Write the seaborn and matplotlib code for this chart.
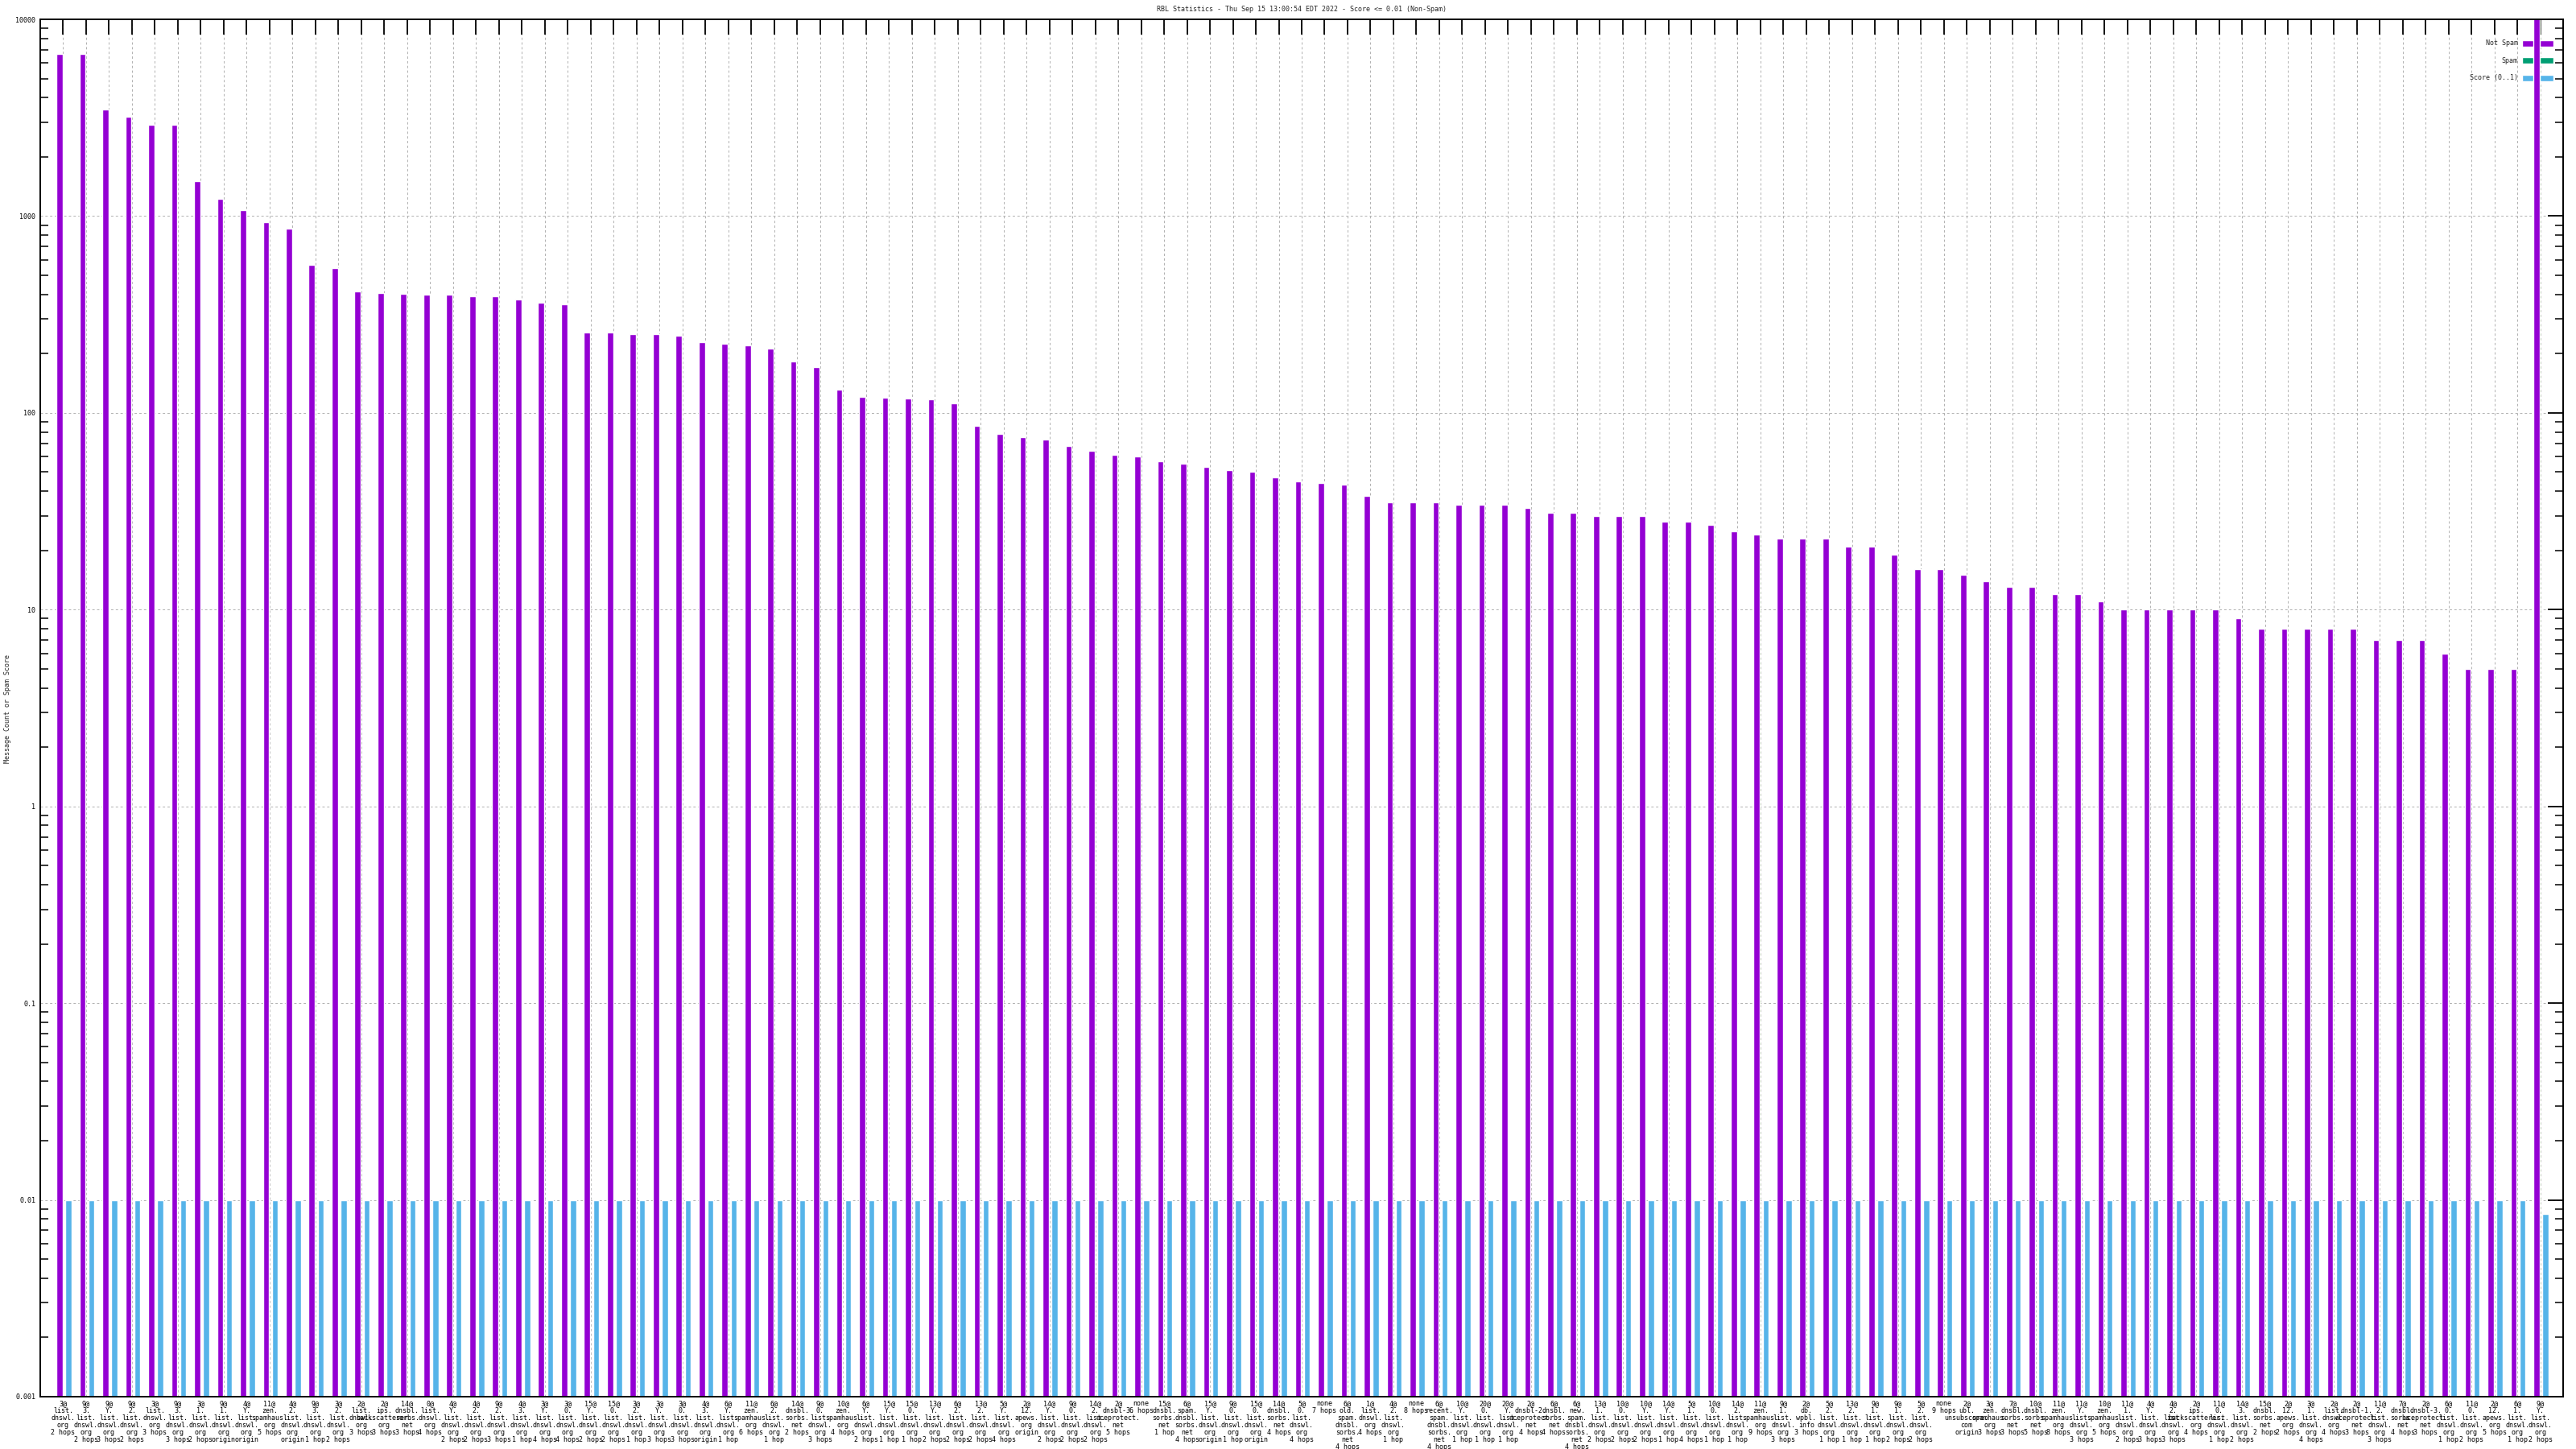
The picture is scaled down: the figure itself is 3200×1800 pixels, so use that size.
import numpy as np
import pandas as pd
import matplotlib
matplotlib.use("Agg")
import matplotlib.pyplot as plt
import seaborn as sns
from matplotlib.patches import Patch
from matplotlib.ticker import LogLocator, NullFormatter, FuncFormatter

# -----------------------------
# Data
# -----------------------------
labels = [
    "3@ list.dnswl.org 2 hops", "9@ 3.list.dnswl.org 2 hops", "9@ Y.list.dnswl.org 3 hops",
    "9@ 2.list.dnswl.org 2 hops", "3@ list.dnswl.org 3 hops", "9@ 3.list.dnswl.org 3 hops",
    "3@ 1.list.dnswl.org 2 hops", "9@ 1.list.dnswl.org origin", "4@ Y.list.dnswl.org origin",
    "11@ zen.spamhaus.org 5 hops", "4@ 2.list.dnswl.org origin", "9@ 3.list.dnswl.org 1 hop",
    "3@ 2.list.dnswl.org 2 hops", "2@ list.dnswl.org 3 hops", "2@ ips.backscatterer.org 3 hops",
    "14@ dnsbl.sorbs.net 3 hops", "0@ list.dnswl.org 4 hops", "4@ Y.list.dnswl.org 2 hops",
    "4@ 2.list.dnswl.org 2 hops", "9@ 2.list.dnswl.org 3 hops", "4@ 3.list.dnswl.org 1 hop",
    "3@ Y.list.dnswl.org 4 hops", "3@ 0.list.dnswl.org 4 hops", "15@ Y.list.dnswl.org 2 hops",
    "15@ 0.list.dnswl.org 2 hops", "3@ 2.list.dnswl.org 1 hop", "3@ Y.list.dnswl.org 3 hops",
    "3@ 0.list.dnswl.org 3 hops", "4@ 3.list.dnswl.org origin", "6@ Y.list.dnswl.org 1 hop",
    "11@ zen.spamhaus.org 6 hops", "6@ 2.list.dnswl.org 1 hop", "14@ dnsbl.sorbs.net 2 hops",
    "9@ 0.list.dnswl.org 3 hops", "10@ zen.spamhaus.org 4 hops", "6@ Y.list.dnswl.org 2 hops",
    "15@ Y.list.dnswl.org 1 hop", "15@ 0.list.dnswl.org 1 hop", "13@ Y.list.dnswl.org 2 hops",
    "6@ 2.list.dnswl.org 2 hops", "13@ 2.list.dnswl.org 2 hops", "5@ Y.list.dnswl.org 4 hops",
    "2@ 12.apews.org origin", "14@ Y.list.dnswl.org 2 hops", "9@ 0.list.dnswl.org 2 hops",
    "14@ 2.list.dnswl.org 2 hops", "2@ dnsbl-3.uceprotect.net 5 hops", "none 6 hops",
    "15@ dnsbl.sorbs.net 1 hop", "6@ spam.dnsbl.sorbs.net 4 hops", "15@ Y.list.dnswl.org origin",
    "9@ 0.list.dnswl.org 1 hop", "15@ 0.list.dnswl.org origin", "14@ dnsbl.sorbs.net 4 hops",
    "5@ 0.list.dnswl.org 4 hops", "none 7 hops", "6@ old.spam.dnsbl.sorbs.net 4 hops",
    "1@ list.dnswl.org 4 hops", "4@ 2.list.dnswl.org 1 hop", "none 8 hops",
    "6@ recent.spam.dnsbl.sorbs.net 4 hops", "10@ Y.list.dnswl.org 1 hop", "20@ 0.list.dnswl.org 1 hop",
    "20@ Y.list.dnswl.org 1 hop", "2@ dnsbl-2.uceprotect.net 4 hops", "6@ dnsbl.sorbs.net 4 hops",
    "6@ new.spam.dnsbl.sorbs.net 4 hops", "13@ 1.list.dnswl.org 2 hops", "10@ 0.list.dnswl.org 2 hops",
    "10@ Y.list.dnswl.org 2 hops", "14@ Y.list.dnswl.org 1 hop", "5@ 1.list.dnswl.org 4 hops",
    "10@ 0.list.dnswl.org 1 hop", "14@ 2.list.dnswl.org 1 hop", "11@ zen.spamhaus.org 9 hops",
    "9@ 1.list.dnswl.org 3 hops", "2@ db.wpbl.info 3 hops", "5@ 2.list.dnswl.org 1 hop",
    "13@ 2.list.dnswl.org 1 hop", "9@ 1.list.dnswl.org 1 hop", "9@ 1.list.dnswl.org 2 hops",
    "5@ 2.list.dnswl.org 2 hops", "none 9 hops", "2@ ubl.unsubscore.com origin",
    "3@ zen.spamhaus.org 3 hops", "7@ dnsbl.sorbs.net 3 hops", "10@ dnsbl.sorbs.net 5 hops",
    "11@ zen.spamhaus.org 8 hops", "11@ Y.list.dnswl.org 3 hops", "10@ zen.spamhaus.org 5 hops",
    "11@ 1.list.dnswl.org 2 hops", "4@ Y.list.dnswl.org 3 hops", "4@ 2.list.dnswl.org 3 hops",
    "2@ ips.backscatterer.org 4 hops", "11@ 0.list.dnswl.org 1 hop", "14@ 3.list.dnswl.org 2 hops",
    "15@ dnsbl.sorbs.net 2 hops", "2@ 12.apews.org 2 hops", "3@ 1.list.dnswl.org 4 hops",
    "2@ list.dnswl.org 4 hops", "2@ dnsbl-1.uceprotect.net 3 hops", "11@ 2.list.dnswl.org 3 hops",
    "7@ dnsbl.sorbs.net 4 hops", "2@ dnsbl-3.uceprotect.net 3 hops", "6@ 0.list.dnswl.org 1 hop",
    "11@ 0.list.dnswl.org 2 hops", "2@ 12.apews.org 5 hops", "6@ 1.list.dnswl.org 1 hop",
    "9@ Y.list.dnswl.org 2 hops",
]

not_spam = [
    6700, 6700, 3470, 3210, 2910, 2900, 1510, 1220, 1070, 935,
    865, 566, 545, 416, 408, 401, 400, 399, 393, 392,
    378, 364, 357, 257, 256, 252, 251, 247, 229, 225,
    220, 212, 182, 171, 131, 121, 119, 118, 117, 112,
    86, 78, 75, 73, 68, 64, 61, 60, 57, 55,
    53, 51, 50, 47, 45, 44, 43, 38, 35, 35,
    35, 34, 34, 34, 33, 31, 31, 30, 30, 30,
    28, 28, 27, 25, 24, 23, 23, 23, 21, 21,
    19, 16, 16, 15, 14, 13, 13, 12, 12, 11,
    10, 10, 10, 10, 10, 9, 8, 8, 8, 8,
    8, 7, 7, 7, 6, 5, 5, 5, 25000,
]

spam = [0] * len(labels)

score = [0.01] * (len(labels) - 1) + [0.0085]

# -----------------------------
# Style
# -----------------------------
sns.set_style("white")
plt.rcParams["font.family"] = ["DejaVu Sans Mono", "DejaVu Sans"]
plt.rcParams["font.size"] = 6

purple = "#9400d3"
green = "#009e73"
blue = "#56b4e9"


def wrap(lbl):
    head, rest = lbl.split(" ", 1)
    if head == "none":
        return "none\n" + rest
    dom, hops = rest.split(" ", 1)
    parts = dom.split(".")
    lines = [p + "." for p in parts[:-1]] + [parts[-1]]
    return "\n".join([head] + lines + [hops])


n = len(labels)
idx = np.arange(n)
df = pd.DataFrame({
    "pos": idx,
    "label": [wrap(l) for l in labels],
    "not_spam": not_spam,
    "spam": spam,
    "score": score,
})

fig = plt.figure(figsize=(32, 18), dpi=100)
ax = fig.add_axes([50 / 3200, 1 - 1735 / 1800, 3134 / 3200, 1711 / 1800])
ax.set_yscale("log")

sns.barplot(x=df["pos"] - 0.16, y=df["not_spam"], native_scale=True, width=0.27,
            color=purple, saturation=1, errorbar=None, ax=ax, zorder=5)
sns.barplot(x=df["pos"] + 0.035, y=df["spam"].replace(0, np.nan), native_scale=True, width=0.13,
            color=green, saturation=1, errorbar=None, ax=ax, zorder=4)
sns.barplot(x=df["pos"] + 0.23, y=df["score"], native_scale=True, width=0.26,
            color=blue, saturation=1, errorbar=None, ax=ax, zorder=4)

ax.set_xlim(-1, n)
ax.set_ylim(0.001, 10000)

# axes / ticks
for s in ax.spines.values():
    s.set_visible(True)
    s.set_linewidth(1.4)
    s.set_color("black")
    s.set_zorder(6)

ax.set_xticks(idx)
ax.set_xticklabels(df["label"], linespacing=1.0)
ax.yaxis.set_major_locator(LogLocator(base=10, numticks=20))
ax.yaxis.set_minor_locator(LogLocator(base=10, subs=np.arange(2, 10), numticks=20))
ax.yaxis.set_minor_formatter(NullFormatter())
ax.yaxis.set_major_formatter(FuncFormatter(lambda v, p: f"{v:g}"))
ax.tick_params(axis="both", which="major", direction="in", length=13.7, width=1.3,
               top=True, right=True, labelsize=6, colors="black")
ax.tick_params(axis="y", which="minor", direction="in", length=7.2, width=1.3,
               left=True, right=True)
ax.tick_params(axis="x", which="major", pad=3)
ax.tick_params(axis="y", which="major", pad=4)
ax.set_xlabel("")
ax.set_ylabel("")

ax.set_axisbelow(True)
ax.grid(True, which="major", axis="both", color="#b0b0b0", linestyle=(0, (3, 3)), linewidth=0.7)

# legend (gnuplot style: text right, sample after)
handles = [Patch(facecolor=purple), Patch(facecolor=green), Patch(facecolor=blue)]
leg = ax.legend(handles, ["Not Spam", "Spam", "Score (0..1)"], loc="upper right",
                markerfirst=False, frameon=False, fontsize=6, handlelength=4.7,
                handleheight=1.1, handletextpad=0.6, labelspacing=1.5,
                borderaxespad=0.0, bbox_to_anchor=(1 - 9 / 3134, 1 - 22 / 1711))
leg.set_zorder(3)

fig.text(1617 / 3200, 1 - 12 / 1800, "RBL Statistics - Thu Sep 15 13:00:54 EDT 2022 - Score <= 0.01 (Non-Spam)",
         ha="center", va="center", fontsize=6)
fig.text(10 / 3200, 1 - 880 / 1800, "Message Count or Spam Score", rotation=90,
         ha="center", va="center", fontsize=6)

fig.savefig("out.png", dpi=100, facecolor="white")
